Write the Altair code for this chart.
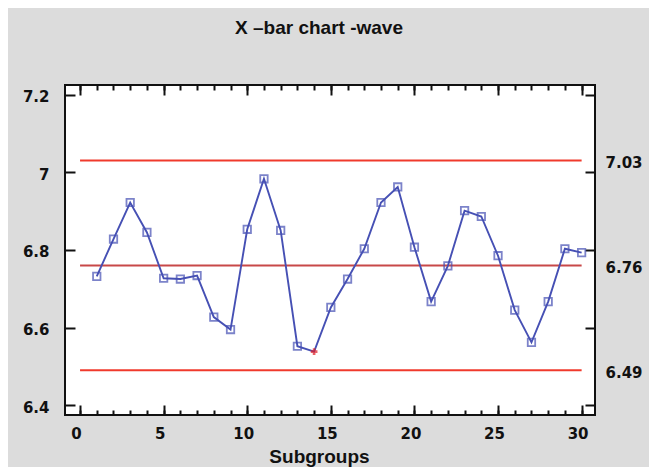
import altair as alt
import pandas as pd

# ---- data ----
subgroups = list(range(1, 31))
means = [6.732, 6.828, 6.922, 6.845, 6.727, 6.725, 6.734, 6.627, 6.595, 6.853,
         6.983, 6.850, 6.552, 6.538, 6.652, 6.725, 6.803, 6.922, 6.962, 6.807,
         6.667, 6.759, 6.901, 6.886, 6.785, 6.645, 6.562, 6.667, 6.803, 6.793]
flags = ["in"] * 13 + ["low"] + ["in"] * 16
limit_names = ["UCL", "CL", "LCL"]
limit_values = [7.03, 6.76, 6.49]
limit_start = [0, 0, 0]
limit_end = [30, 30, 30]
x_major = [0, 5, 10, 15, 20, 25, 30]
x_minor = list(range(0, 31))
y_major = [6.4, 6.6, 6.8, 7.0, 7.2]
x_domain = [-0.9, 30.8]
y_domain = [6.375, 7.2245]

pts = pd.DataFrame({"subgroup": subgroups, "mean": means, "flag": flags})
lim = pd.DataFrame({"name": limit_names, "value": limit_values,
                    "start": limit_start, "end": limit_end})

BLUE = "#4650b4"
INK = "#111111"


def xs():
    return alt.Scale(domain=x_domain, nice=False, zero=False)


def ys():
    return alt.Scale(domain=y_domain, nice=False, zero=False)


LABEL = dict(labelFont="DejaVu Sans", labelFontSize=15, labelFontWeight="bold",
             labelColor=INK, labelFlush=False, labelOverlap=False)
TICK = dict(tickColor=INK, tickWidth=2, domain=False, grid=False)

ax_bottom = alt.Axis(orient="bottom", values=x_major, offset=-10, tickSize=10,
                     labelPadding=11, labelOffset=-4, title="Subgroups",
                     titleFont="Liberation Sans", titleFontSize=19,
                     titleFontWeight="bold", titleColor=INK, titlePadding=6,
                     titleX=254, **LABEL, **TICK)
ax_bottom_minor = alt.Axis(orient="bottom", values=x_minor, offset=-5, tickSize=5,
                           labels=False, title=None, **TICK)
ax_top_major = alt.Axis(orient="top", values=x_major, offset=-10, tickSize=10,
                        labels=False, title=None, **TICK)
ax_top_minor = alt.Axis(orient="top", values=x_minor, offset=-5, tickSize=5,
                        labels=False, title=None, **TICK)
ax_left = alt.Axis(orient="left", values=y_major, offset=-10, tickSize=10,
                   labelPadding=16, labelOffset=2, format="~g", title=None,
                   **LABEL, **TICK)
ax_right_ticks = alt.Axis(orient="right", values=y_major, offset=-10, tickSize=10,
                          labels=False, title=None, **TICK)
ax_right_labels = alt.Axis(orient="right", values=limit_values, ticks=False,
                           tickSize=0, labelPadding=10, labelOffset=2,
                           format=".2f", title=None, domain=False, grid=False,
                           **LABEL)

rules = alt.Chart(lim).mark_rule(strokeWidth=2).encode(
    x=alt.X("start:Q", scale=xs(), axis=ax_bottom),
    x2="end:Q",
    y=alt.Y("value:Q", scale=ys(), axis=ax_left),
    color=alt.Color("name:N",
                    scale=alt.Scale(domain=limit_names,
                                    range=["#f03a2c", "#c84848", "#f03a2c"]),
                    legend=None),
)

line = alt.Chart(pts).mark_line(color=BLUE, strokeWidth=1.9).encode(
    x=alt.X("subgroup:Q", scale=xs(), axis=ax_top_major),
    y=alt.Y("mean:Q", scale=ys(), axis=ax_right_ticks),
)

squares = alt.Chart(pts).transform_filter(alt.datum.flag == "in").mark_point(
    shape="square", size=55, filled=False, strokeWidth=1.8, color=BLUE
).encode(
    x=alt.X("subgroup:Q", scale=xs(), axis=ax_bottom_minor),
    y=alt.Y("mean:Q", scale=ys(), axis=ax_right_labels),
)

low = alt.Chart(pts).transform_filter(alt.datum.flag == "low").mark_point(
    shape="cross", size=45, filled=True, color="#e01b24"
).encode(
    x=alt.X("subgroup:Q", scale=xs(), axis=ax_top_minor),
    y=alt.Y("mean:Q", scale=ys(), axis=None),
)

chart = alt.layer(rules, line, squares, low).resolve_scale(
    x="independent", y="independent"
).properties(
    width=530,
    height=330,
    title=alt.TitleParams(text="X –bar chart -wave", font="Liberation Sans",
                          fontSize=19, fontWeight="bold", color=INK,
                          anchor="middle", offset=46, dx=-11),
    autosize=alt.AutoSizeParams(type="none"),
    padding={"left": 57, "top": 77, "right": 54, "bottom": 52},
    background="#dcdcdc",
).configure_view(fill="white", stroke=INK, strokeWidth=2)

chart.save("out.html", embed_options={"renderer": "svg", "actions": False})
